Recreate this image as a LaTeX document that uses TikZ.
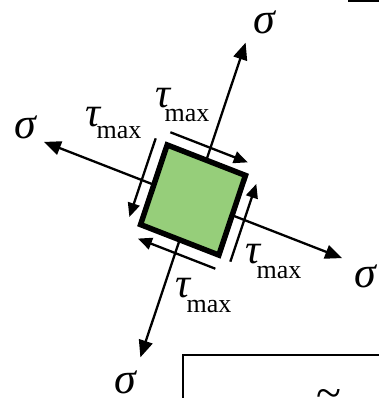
\documentclass[tikz,border=0pt]{standalone}
\usepackage{fontspec}
\setmainfont{Liberation Serif}
\usetikzlibrary{arrows.meta}
\definecolor{boxgreen}{RGB}{150,206,122}
\begin{document}
\begin{tikzpicture}[x=1pt,y=-1pt,
  sig/.style={line width=2.3pt,-{Triangle[length=17pt,width=14pt]}},
  shear/.style={line width=2.3pt,-{Triangle[length=14pt,width=12pt]}},
  sigl/.style={inner sep=0pt,font=\fontsize{44}{44}\selectfont\itshape},
  taul/.style={inner sep=0pt,font=\fontsize{42}{42}\selectfont\itshape},
  maxl/.style={inner sep=0pt,font=\fontsize{26}{26}\selectfont},
  frame/.style={line width=1.4pt}
]
\useasboundingbox (0,0) rectangle (378,398);
\begin{scope}[shift={(193pt,-200pt)},x={(0.932pt,-0.363pt)},y={(-0.317pt,-0.948pt)}]
  \coordinate (eT) at (0,-42);  \coordinate (tT) at (0,-166);
  \coordinate (eB) at (0,42);   \coordinate (tB) at (0,166);
  \coordinate (eL) at (-42,0);  \coordinate (tL) at (-160,0);
  \coordinate (eR) at (42,0);   \coordinate (tR) at (160,0);
  \draw[sig] (eT) -- (tT);
  \draw[sig] (eB) -- (tB);
  \draw[sig] (eL) -- (tL);
  \draw[sig] (eR) -- (tR);
  \coordinate (sT1) at (-43,-55); \coordinate (sT2) at (40,-55);
  \coordinate (sR1) at (55,44);   \coordinate (sR2) at (55,-38);
  \coordinate (sB1) at (43,56);   \coordinate (sB2) at (-40,56);
  \coordinate (sL1) at (-55,-44); \coordinate (sL2) at (-55,39);
  \draw[shear] (sT1) -- (sT2);
  \draw[shear] (sR1) -- (sR2);
  \draw[shear] (sB1) -- (sB2);
  \draw[shear] (sL1) -- (sL2);
  \draw[line width=5.5pt,line join=miter,fill=boxgreen]
    (-42,-42) -- (42,-42) -- (42,42) -- (-42,42) -- cycle;
\end{scope}
\node[sigl] (sigT) at (264,22) {σ};
\node[sigl] (sigL) at (25,127) {σ};
\node[sigl] (sigR) at (365,276) {σ};
\node[sigl] (sigB) at (125,382) {σ};
\node[taul] (tauT) at (163,98) {τ};
\node[maxl] (maxT) at (187,116) {max};
\node[taul] (tauL) at (93,117) {τ};
\node[maxl] (maxL) at (119,133) {max};
\node[taul] (tauR) at (253,254) {τ};
\node[maxl] (maxR) at (279,272) {max};
\node[taul] (tauB) at (183,288) {τ};
\node[maxl] (maxB) at (209,306) {max};
\draw[line width=1.6pt] (348,0.8) -- (380,0.8);
\draw[frame] (183,400) -- (183,355) -- (380,355);
\node[inner sep=0pt,anchor=north,font=\fontsize{46}{46}\selectfont] (tl) at (329,389) {\char126};
\end{tikzpicture}
\end{document}
